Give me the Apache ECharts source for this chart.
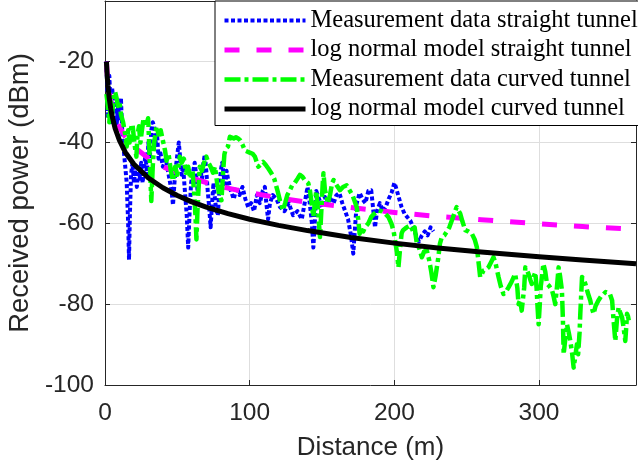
<!DOCTYPE html>
<html>
<head>
<meta charset="utf-8">
<script src="https://cdn.jsdelivr.net/npm/echarts@6/dist/echarts.min.js"></script>
<style>
  html, body { margin: 0; padding: 0; background: #fff; }
  #chart { width: 638px; height: 463px; }
</style>
</head>
<body>
<div id="chart"></div>
<script>
// distance (m), received power (dBm)
const straightMeas = [
  [0.5,-20],[1,-21],[1.5,-26],[2,-34],[2.5,-30],[3,-23.5],[3.5,-28],[4,-35],[5,-26.5],[6,-33],
  [7,-29],[8,-36],[9,-31],[10,-34],[11,-29],[12,-38],[13,-42],[14,-46],[15,-50],[16,-60],
  [16.6,-69],[17.2,-58],[18,-48],[19,-45],[20,-50],[21,-46],[22,-51],[23,-47],[24,-49],[25,-45],
  [26,-50],[27,-46],[28,-43],[29,-48],[30,-40],[31,-44],[32,-37],[33,-35],[34,-36],[35,-40],
  [36,-38],[37,-44],[38,-42],[40,-46],[42,-44],[44,-48],[46,-52],[47,-55.5],[48,-50],[49,-46],
  [50,-43],[51,-40],[52,-44],[53,-48],[54,-46],[55,-51],[56.5,-58],[57.5,-66],[58.5,-57],[59.5,-50],
  [61,-47],[62,-45],[63,-48],[64,-52],[65,-50],[66,-47],[67,-49],[68,-45],[69,-43],[70,-47],
  [71,-52],[72,-56],[73,-61],[74,-55],[75,-50],[76,-54],[77,-57],[78,-58],[79,-52],[80,-47],
  [81,-45],[82,-48],[83,-51],[84,-47],[85,-49],[87,-52],[89,-54],[91,-51],[93,-53],[95,-51],
  [97,-54],[99,-56],[101,-55],[103,-57],[105,-53],[107,-55],[109,-52],[110.5,-51],[111.5,-55],[112.7,-59],
  [114,-55],[116,-53],[118.5,-54],[121,-56],[124,-57],[127,-55],[130,-58],[133,-57],[136,-59],[138,-55],
  [140,-51],[141.5,-55],[143,-60],[144,-66],[145,-60],[146,-52],[148,-54],[150,-56],[152,-53.5],[154,-56],
  [156,-54],[158,-55],[160,-53],[162,-52.5],[164,-55],[166,-57],[168,-59],[170,-63],[171.6,-67.5],[173,-60],
  [174,-55],[176,-52.5],[178,-54],[180,-55],[182,-52],[184,-51.8],[185.5,-57],[186.6,-61],[188,-57],[190,-55],
  [192,-57],[194,-56],[196,-54],[198,-52.5],[200,-50],[201,-51],[203,-53.5],[205,-56],[207,-57.6],[209,-58.5],
  [211,-59.3],[213,-61],[215,-63],[217,-64.5],[219,-63],[221,-62],[223,-63],[225,-61],[227,-62]
];

const straightModel = [
  [1,-20],[1.5,-22.9],[2,-24.9],[3,-27.7],[4,-29.8],[5,-31.3],[7,-33.7],[10,-36.2],[14,-38.6],[20,-41.1],
  [30,-43.9],[40,-46.0],[50,-47.5],[60,-48.8],[70,-49.9],[85,-51.3],[100,-52.4],[120,-53.7],[140,-54.8],
  [170,-56.1],[200,-57.3],[230,-58.3],[260,-59.1],[300,-60.1],[330,-60.8],[367,-61.5]
];

const curvedMeas = [
  [1,-28],[2,-31],[3,-35],[4,-30],[5,-33],[6,-28],[7,-27.5],[8,-29],[9,-31],[10,-30],
  [11,-33],[12.5,-35],[14,-38],[15,-41],[16,-37],[17,-40],[18,-36.5],[19,-35.5],[20,-39],[21,-42],
  [21.7,-43.5],[22.5,-38],[23.5,-36],[24.5,-40],[25.5,-37],[26.5,-34.5],[27.5,-34],[28.5,-36],[29.8,-34],[30.5,-40],
  [31.3,-48],[32,-54.5],[33,-46],[34,-40],[35.6,-36],[37,-38],[38.5,-37],[40,-39.5],[41.5,-42],[42.5,-44.5],
  [44,-43],[45.5,-47],[47,-49.5],[48.5,-46],[50,-48],[51.7,-43.5],[53,-45],[54.5,-44],[56,-47.5],[57.5,-46],
  [59,-49],[60.5,-47],[61.5,-52],[62.5,-58],[63.2,-64],[64,-56],[65,-49],[65.5,-46],[67,-47],[68.5,-45],
  [70,-43.5],[71.5,-45],[73,-46],[74.7,-47.5],[76,-46],[77.5,-50],[79,-53],[80.5,-54.3],[81.5,-48],[82.5,-43],
  [83.5,-41.5],[85,-41],[86.3,-38.6],[87.5,-38.5],[89,-39],[90.5,-38.7],[92,-39],[93.5,-39.5],[95,-40.5],[96.7,-42],
  [98,-42.2],[100,-42.5],[102,-42.8],[103.6,-43.5],[105,-45],[106,-46],[107.5,-45.5],[109.3,-44.8],[111,-45.5],[113,-46.5],
  [115,-47.6],[117,-49],[118.5,-51],[119.7,-52.6],[121,-54.5],[123,-56.8],[124.5,-55],[126,-53],[127.8,-51.8],[129.5,-50.5],
  [131,-50.1],[133,-49],[134.7,-48],[136.5,-48.5],[138.5,-49.5],[140.5,-50.1],[141.7,-52],[142.8,-55],[144,-58.4],[145,-55],
  [146,-52],[147,-56],[148.6,-63.4],[149.5,-57],[150.5,-50],[151,-47.6],[152,-51.8],[153,-53],[154,-55.1],[155.5,-53],
  [157,-50],[158,-49.3],[160,-50.5],[162.4,-51.8],[164.5,-51],[167,-50.6],[169,-51.8],[171,-53],[172.5,-54.5],[174,-56],
  [175,-59],[176,-62.6],[177,-61],[178.5,-62],[179.7,-61],[182,-60],[184,-58.4],[186.5,-57.5],[189,-56.8],[191,-57],
  [193.6,-57.6],[196,-58.5],[198,-60.1],[199.5,-62],[200.5,-64.2],[201.7,-67],[202.8,-70.9],[204,-66],[205,-62.5],[206,-61.7],
  [208.5,-61],[211,-60.5],[213,-62],[214,-61],[215.5,-65],[217,-66],[219,-68.4],[220.5,-67],[222.4,-66.7],[224,-69],
  [225.5,-72],[227,-75.8],[228.5,-73],[230.4,-68.4],[231.5,-65],[232.8,-63.4],[234.5,-63],[236,-62.2],[238,-61],[239.7,-59.3],
  [241.5,-57.5],[243,-56],[244,-56.2],[245.5,-57.6],[247,-59.5],[249,-61.7],[251,-62],[253.6,-62.6],[255.5,-64],[257,-65.9],
  [258.3,-70],[259.3,-73.3],[260.5,-72.5],[261.6,-71.7],[263,-71.5],[265,-70.9],[267,-69.5],[268.5,-68.4],[270,-70],[272,-73.3],
  [273.5,-75.5],[275.4,-77.5],[277,-77],[279,-75.8],[281,-74.5],[283.5,-72.5],[285,-76],[285.8,-80],[287,-79],[288,-81.6],
  [289,-81.6],[289.7,-76],[290.5,-70.9],[291.5,-71.5],[292.7,-72.5],[294,-74],[295,-75],[296,-73.5],[297.4,-72.1],[298.3,-76],
  [299,-81],[299.7,-85],[300.5,-80],[301.2,-75.5],[302,-73.3],[303,-70],[304.3,-72],[305.5,-75],[307,-75.5],[309,-76.6],
  [310,-78],[311.2,-80],[312.3,-76],[313.5,-70.9],[314.5,-73],[315.8,-76.6],[316.5,-84],[317,-92.4],[318,-89],[319.3,-85],
  [320.5,-87],[321.6,-89.1],[322.8,-92],[323.9,-95.7],[325,-93],[326.2,-89.9],[327,-92.4],[328,-87],[328.5,-82.4],[329.2,-77],
  [329.7,-73.3],[331,-74],[332,-75],[333.5,-77],[335.4,-79.1],[336.5,-81],[337.7,-82.4],[339,-80.5],[341,-79.1],[343,-78],
  [344.6,-77.5],[346,-77],[347,-76.6],[349,-77.5],[350.5,-79.1],[351.5,-84],[352.7,-89.1],[353.8,-84],[355,-80.8],[356,-82],
  [357.4,-83.3],[358.5,-86],[359.6,-89.1],[360.2,-86],[360.8,-82.4],[361.5,-83],[362,-84]
];

const curvedModel = [
  [1,-20],[1.5,-23.4],[2,-25.9],[3,-29.3],[4,-31.7],[5,-33.6],[7,-36.5],[10,-39.5],[14,-42.4],[20,-45.4],
  [30,-48.8],[40,-51.2],[50,-53.1],[60,-54.7],[70,-56.0],[85,-57.6],[100,-59.0],[120,-60.5],[140,-61.8],
  [170,-63.5],[200,-64.9],[230,-66.1],[260,-67.1],[300,-68.3],[330,-69.1],[367,-70.0]
];

const seriesNames = [
  'Measurement data straight tunnel',
  'log normal model straight tunnel',
  'Measurement data curved tunnel',
  'log normal model curved tunnel'
];

const axisColor = '#262626';
const gridColor = '#dedede';
const sans = 'Liberation Sans, Arial, sans-serif';

let myChart = echarts.init(document.getElementById('chart'));

function lineSeries(name, data, color, width, dash, z) {
  return {
    name: name,
    type: 'line',
    data: data,
    symbol: 'none',
    showSymbol: false,
    animation: false,
    clip: true,
    z: z,
    lineStyle: { color: color, width: width, type: dash, cap: 'butt', join: 'round' },
    itemStyle: { color: color }
  };
}

let option = {
  animation: false,
  backgroundColor: '#fff',
  grid: { left: 105, right: 2, top: 1, bottom: 78, outerBoundsMode: 'none' },
  legend: {
    left: 215,
    top: 1,
    orient: 'vertical',
    selectedMode: false,
    backgroundColor: '#fff',
    borderColor: '#000',
    borderWidth: 1,
    padding: [7, 9, 4, 7],
    itemGap: 4.5,
    itemWidth: 81,
    itemHeight: 14,
    // hide the marker circle, keep the line sample
    itemStyle: { opacity: 0 },
    lineStyle: { width: 'inherit' },
    textStyle: { fontFamily: 'Liberation Serif, Times New Roman, serif', fontSize: 24.5, color: '#000' },
    data: seriesNames
  },
  xAxis: [{
    type: 'value',
    min: 0,
    max: 367,
    interval: 100,
    name: 'Distance (m)',
    nameLocation: 'middle',
    nameGap: 50,
    nameTextStyle: { fontFamily: sans, fontSize: 26, color: axisColor },
    axisLine: { onZero: false, lineStyle: { color: axisColor, width: 1 } },
    axisTick: { inside: true, length: 5, lineStyle: { color: axisColor } },
    axisLabel: { fontFamily: sans, fontSize: 24.5, color: axisColor, margin: 16, showMaxLabel: false },
    splitLine: { show: true, lineStyle: { color: gridColor, width: 1 } }
  }, {
    type: 'value',
    position: 'top',
    min: 0,
    max: 367,
    interval: 100,
    axisLine: { onZero: false, lineStyle: { color: axisColor, width: 1 } },
    axisTick: { inside: true, length: 5, lineStyle: { color: axisColor } },
    axisLabel: { show: false },
    splitLine: { show: false }
  }],
  yAxis: [{
    type: 'value',
    min: -100,
    max: -5,
    interval: 20,
    name: 'Received power (dBm)',
    nameLocation: 'middle',
    nameGap: 71,
    nameTextStyle: { fontFamily: sans, fontSize: 27.5, color: axisColor },
    axisLine: { onZero: false, lineStyle: { color: axisColor, width: 1 } },
    axisTick: { inside: true, length: 5, lineStyle: { color: axisColor } },
    axisLabel: { fontFamily: sans, fontSize: 24.5, color: axisColor, margin: 11, showMaxLabel: false },
    splitLine: { show: true, lineStyle: { color: gridColor, width: 1 } }
  }, {
    type: 'value',
    position: 'right',
    min: -100,
    max: -5,
    interval: 20,
    axisLine: { show: true, onZero: false, lineStyle: { color: axisColor, width: 1 } },
    axisTick: { show: true, inside: true, length: 5, lineStyle: { color: axisColor } },
    axisLabel: { show: false },
    splitLine: { show: false }
  }],
  series: [
    lineSeries(seriesNames[0], straightMeas, '#0000ff', 4, [4, 2.5], 2),
    lineSeries(seriesNames[1], straightModel, '#ff00ff', 5, [15, 17], 3),
    lineSeries(seriesNames[2], curvedMeas, '#00ff00', 4.5, [16, 4, 4, 4], 4),
    lineSeries(seriesNames[3], curvedModel, '#000000', 5, 'solid', 5)
  ]
};

myChart.setOption(option);
</script>
</body>
</html>
